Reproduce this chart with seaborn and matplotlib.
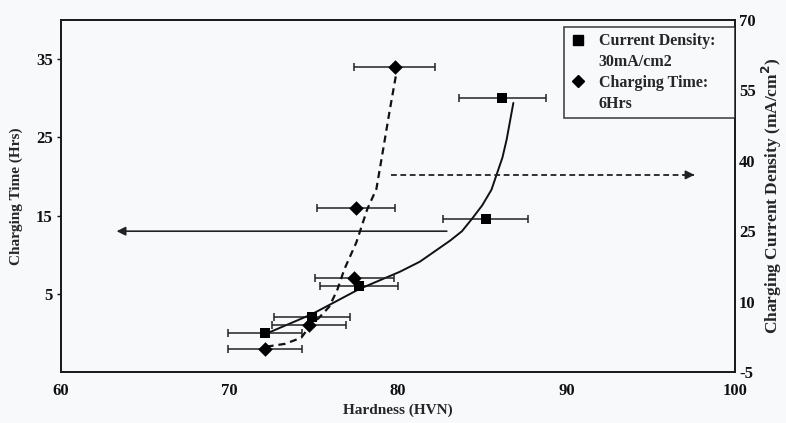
import matplotlib
matplotlib.use("Agg")
import matplotlib.pyplot as plt
import seaborn as sns
import pandas as pd
from matplotlib.lines import Line2D

# Series 1: constant current density (30 mA/cm2), charging time varied -> left axis
hardness_cd = [72.1, 74.9, 77.7, 85.2, 86.2]
charging_time_hrs = [0, 2, 6, 14.5, 30]
hardness_cd_err = [2.2, 2.25, 2.3, 2.5, 2.6]

# Series 2: constant charging time (6 h), current density varied -> right axis
hardness_ct = [72.1, 74.7, 77.4, 77.5, 79.8]
current_density = [0, 5, 15, 30, 60]
hardness_ct_err = [2.2, 2.2, 2.35, 2.3, 2.4]

# Hand-drawn trend lines through each series
time_trend_hardness = [72.4, 74.9, 77.7, 80.1, 81.3, 82.3, 83.1, 83.8, 84.4, 85.0,
                       85.55, 85.85, 86.2, 86.45, 86.85]
time_trend_hrs = [0.1, 2.4, 5.6, 7.8, 9.1, 10.6, 11.8, 13.0, 14.6, 16.3,
                  18.3, 20.2, 22.4, 24.7, 29.4]
density_trend_hardness = [72.2, 73.3, 74.26, 74.74, 75.3, 75.92, 76.4, 76.82, 77.53,
                          78.18, 78.72, 79.13, 79.5, 79.9]
density_trend_ma = [0.4, 1.0, 2.3, 4.6, 6.5, 8.9, 12.5, 16.9, 22.6,
                    29.7, 34.0, 42.6, 50.5, 58.6]

# Guide arrows pointing to the axis each curve belongs to
time_arrow_hardness = [82.9, 63.3]
time_arrow_level = 13
density_arrow_hardness = [79.6, 97.6]
density_arrow_level = 37

x_ticks = [60, 70, 80, 90, 100]
left_ticks = [5, 15, 25, 35]
right_ticks = [-5, 10, 25, 40, 55, 70]

sns.set_theme(style="white")
plt.rcParams["font.family"] = ["Liberation Serif", "DejaVu Serif"]
plt.rcParams["font.weight"] = "bold"
plt.rcParams["axes.labelweight"] = "bold"

bg = "#f8f9fb"
fig = plt.figure(figsize=(7.86, 4.23), dpi=100, facecolor=bg)
ax = fig.add_axes([0.0776, 0.1206, 0.8574, 0.8321])
ax.set_facecolor(bg)
ax2 = ax.twinx()

cd = pd.DataFrame({"hardness": hardness_cd, "time": charging_time_hrs, "err": hardness_cd_err})
ct = pd.DataFrame({"hardness": hardness_ct, "density": current_density, "err": hardness_ct_err})

# left axis: charging time
ax.errorbar(cd["hardness"], cd["time"], xerr=cd["err"], fmt="none", ecolor="#222222",
            elinewidth=1.1, capsize=2.6, capthick=1.1, zorder=2)
sns.lineplot(x=time_trend_hardness, y=time_trend_hrs, ax=ax, color="#111111", lw=1.4,
             sort=False, estimator=None, zorder=3)
sns.scatterplot(data=cd, x="hardness", y="time", ax=ax, marker="s", s=60, color="black",
                edgecolor="black", linewidth=0, zorder=4)
ax.annotate("", xy=(time_arrow_hardness[1], time_arrow_level),
            xytext=(time_arrow_hardness[0], time_arrow_level),
            arrowprops=dict(arrowstyle="-|>", color="#222222", lw=1.2, mutation_scale=13,
                            shrinkA=0, shrinkB=0))

# right axis: current density
ax2.errorbar(ct["hardness"], ct["density"], xerr=ct["err"], fmt="none", ecolor="#222222",
             elinewidth=1.1, capsize=2.6, capthick=1.1, zorder=2)
sns.lineplot(x=density_trend_hardness, y=density_trend_ma, ax=ax2, color="#111111", lw=1.6,
             sort=False, estimator=None, zorder=3)
ax2.lines[-1].set_dashes([3.2, 2.2])
sns.scatterplot(data=ct, x="hardness", y="density", ax=ax2, marker="D", s=55, color="black",
                edgecolor="black", linewidth=0, zorder=4)
ax2.plot(density_arrow_hardness, [density_arrow_level] * 2, color="#222222", lw=1.3,
         dashes=[3.2, 2.0])
ax2.annotate("", xy=(density_arrow_hardness[1], density_arrow_level),
             xytext=(density_arrow_hardness[1] - 0.6, density_arrow_level),
             arrowprops=dict(arrowstyle="-|>", color="#222222", lw=1.2, mutation_scale=13,
                             shrinkA=0, shrinkB=0))

ax.set_xlim(60, 100)
ax.set_ylim(-5, 40)
ax2.set_ylim(-5, 70)
ax.set_xticks(x_ticks)
ax.set_yticks(left_ticks)
ax2.set_yticks(right_ticks)
ax.set_xticklabels([str(t) for t in x_ticks], fontsize=12, fontweight="bold")
ax.set_yticklabels([str(t) for t in left_ticks], fontsize=12, fontweight="bold")
ax2.set_yticklabels([str(t) for t in right_ticks], fontsize=12, fontweight="bold")
ax.tick_params(axis="x", length=0, pad=8, colors="#111111")
ax.tick_params(axis="y", length=3, width=1, pad=3, colors="#111111", left=True)
ax2.tick_params(axis="y", length=0, pad=3, colors="#111111", right=True)

ax.set_xlabel("Hardness (HVN)", fontsize=11, fontweight="bold", labelpad=3)
ax.set_ylabel("Charging Time (Hrs)", fontsize=11, fontweight="bold", labelpad=9)
ax2.set_ylabel("Charging Current Density (mA/cm$^2$)", fontsize=12.5, fontweight="bold",
               labelpad=3)

for a in (ax, ax2):
    for s in a.spines.values():
        s.set_color("#1a1a1a")
        s.set_linewidth(1.3)
    a.grid(False)

handles = [
    Line2D([], [], marker="s", color="black", ls="none", markersize=7),
    Line2D([], [], ls="none"),
    Line2D([], [], marker="D", color="black", ls="none", markersize=6.5),
    Line2D([], [], ls="none"),
]
labels = ["Current Density:", "30mA/cm2", "Charging Time:", "6Hrs"]
leg = ax2.legend(handles, labels, loc="upper left",
                 bbox_to_anchor=(0.746, 0.724, 0.254, 0.256), mode="expand",
                 borderaxespad=0, frameon=True, fancybox=False, handlelength=1.0,
                 handletextpad=0.8, labelspacing=0.3, borderpad=0.4,
                 prop={"family": "Liberation Serif", "weight": "bold", "size": 11.5})
leg.get_frame().set_edgecolor("#1a1a1a")
leg.get_frame().set_linewidth(1.2)
leg.get_frame().set_facecolor(bg)

fig.savefig("out.png", dpi=100, facecolor=bg)
